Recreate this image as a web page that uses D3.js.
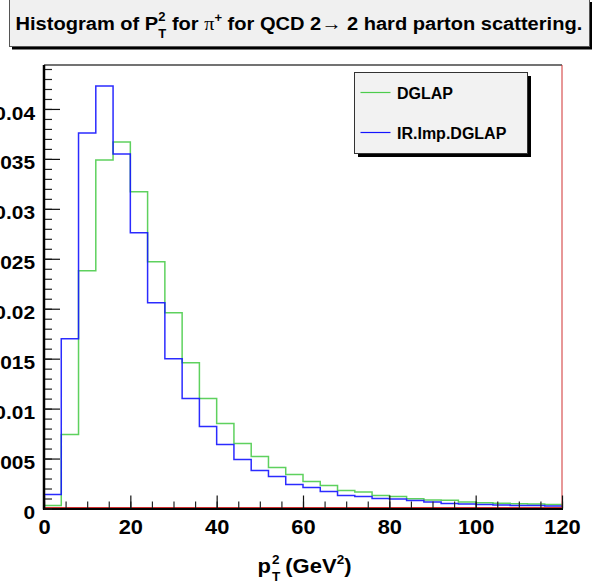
<!DOCTYPE html>
<html>
<head>
<meta charset="utf-8">
<script src="https://cdn.jsdelivr.net/npm/d3@7"></script>
<style>
  html, body { margin: 0; padding: 0; background: #fff; }
  svg { display: block; }
  text { font-family: "Liberation Sans", Arial, Helvetica, sans-serif; font-weight: bold; fill: #000; }
</style>
</head>
<body>
<script>
// ---- data ----
const binWidth = 4;
const binStarts = d3.range(0, 120, 4);
const dglap = [0.0003, 0.0074, 0.0238, 0.0349, 0.0367, 0.0317, 0.0247, 0.0196, 0.0146, 0.0110,
               0.0085, 0.0065, 0.0052, 0.0041, 0.0034, 0.0027, 0.0023, 0.0018, 0.00165, 0.0013,
               0.0012, 0.00098, 0.00085, 0.00082, 0.00065, 0.00058, 0.00052, 0.00048, 0.00045, 0.0004];
const irImpDglap = [0.0014, 0.0170, 0.0376, 0.0423, 0.0355, 0.0276, 0.0206, 0.0150, 0.0110, 0.0082,
                    0.0064, 0.0049, 0.0038, 0.0032, 0.0024, 0.0021, 0.0017, 0.0013, 0.0012, 0.0010,
                    0.00095, 0.0008, 0.00065, 0.0005, 0.00045, 0.0004, 0.00035, 0.0003, 0.0003, 0.00025];
const seriesNames = ["DGLAP", "IR.Imp.DGLAP"];
const xTickValues = [0, 20, 40, 60, 80, 100, 120];
const xTickLabels = ["0", "20", "40", "60", "80", "100", "120"];
const yTickValues = [0, 0.005, 0.01, 0.015, 0.02, 0.025, 0.03, 0.035, 0.04];
const yTickLabels = ["0", "0.005", "0.01", "0.015", "0.02", "0.025", "0.03", "0.035", "0.04"];

// ---- layout ----
const W = 604, H = 582;
const pL = 44, pR = 562, pT = 65, pB = 508.5;
const colors = ["#4ccc4c", "#1414ff"];

const svg = d3.select("body").append("svg").attr("width", W).attr("height", H);

const x = d3.scaleLinear().domain([0, 120]).range([pL, pR]);
const y = d3.scaleLinear().domain([0, 0.0444]).range([pB, pT]);

function stretch(sel, k) {
  sel.each(function () {
    const len = this.getComputedTextLength();
    if (len > 0) {
      this.setAttribute("textLength", len * k);
      this.setAttribute("lengthAdjust", "spacingAndGlyphs");
    }
  });
}

// frame
svg.append("rect").attr("x", pL).attr("y", pT).attr("width", pR - pL).attr("height", pB - pT)
  .attr("fill", "#fff");

// histograms
function stepPoints(vals) {
  const pts = [[x(0), y(0)]];
  vals.forEach((v, i) => {
    pts.push([x(binStarts[i]), y(v)]);
    pts.push([x(binStarts[i] + binWidth), y(v)]);
  });
  pts.push([x(120), y(0)]);
  return pts;
}
const line = d3.line();
[dglap, irImpDglap].forEach((vals, k) => {
  svg.append("path").attr("d", line(stepPoints(vals)))
    .attr("fill", "none").attr("stroke", colors[k]).attr("stroke-width", 1.5)
    .attr("stroke-opacity", 0.9);
});

// frame lines
svg.append("line").attr("x1", pL).attr("x2", pR).attr("y1", pT).attr("y2", pT)
  .attr("stroke", "#444").attr("stroke-width", 1.5);
svg.append("line").attr("x1", pR).attr("x2", pR).attr("y1", pT).attr("y2", pB)
  .attr("stroke", "#d03030").attr("stroke-width", 1);
svg.append("line").attr("x1", pL).attr("x2", pR).attr("y1", pB - 1).attr("y2", pB - 1)
  .attr("stroke", "#d03030").attr("stroke-width", 1);

// x axis
const xMinor = svg.append("g").attr("transform", `translate(0,${pB})`)
  .call(d3.axisBottom(x).tickValues(d3.range(0, 121, 5)).tickSizeInner(-7).tickSizeOuter(0).tickFormat(""));
xMinor.select(".domain").remove();
xMinor.selectAll("line").attr("stroke", "#222").attr("stroke-width", 1.2);

const xAxis = svg.append("g").attr("transform", `translate(0,${pB})`)
  .call(d3.axisBottom(x).tickValues(xTickValues).tickSizeInner(-13).tickSizeOuter(0)
    .tickFormat((d, i) => xTickLabels[i]));
xAxis.select(".domain").attr("stroke", "#000").attr("stroke-width", 2).attr("d", `M${pL - 1},0.5H${pR + 1}`);
xAxis.selectAll("line").attr("stroke", "#111").attr("stroke-width", 1.2);
xAxis.selectAll("text").attr("y", 25.5).attr("dy", null)
  .style("font-size", "19.5px").style("font-family", "'Liberation Sans', Arial, sans-serif").style("font-weight", "bold");
stretch(xAxis.selectAll("text"), 1.12);

// y axis
const yMinor = svg.append("g").attr("transform", `translate(${pL},0)`)
  .call(d3.axisLeft(y).tickValues(d3.range(0, 0.0445, 0.001)).tickSizeInner(-8).tickSizeOuter(0).tickFormat(""));
yMinor.select(".domain").remove();
yMinor.selectAll("line").attr("stroke", "#222").attr("stroke-width", 1.2);

const yAxis = svg.append("g").attr("transform", `translate(${pL},0)`)
  .call(d3.axisLeft(y).tickValues(yTickValues).tickSizeInner(-16).tickSizeOuter(0).tickPadding(9)
    .tickFormat((d, i) => yTickLabels[i]));
yAxis.select(".domain").attr("stroke", "#000").attr("stroke-width", 2.5).attr("d", `M0,${pT}V${pB + 1}`);
yAxis.selectAll("line").attr("stroke", "#111").attr("stroke-width", 1.2);
yAxis.selectAll("text").attr("dy", "0.53em")
  .style("font-size", "19px").style("font-family", "'Liberation Sans', Arial, sans-serif").style("font-weight", "bold");
stretch(yAxis.selectAll("text"), 1.1);

// x axis title: p_T^2 (GeV^2)
(function () {
  const g = svg.append("g");
  const base = 573;
  const t1 = g.append("text").attr("y", base).style("font-size", "19.5px").text("p");
  const w1 = t1.node().getComputedTextLength();
  const s1 = g.append("text").attr("y", base - 9).style("font-size", "12px").text("2");
  const b1 = g.append("text").attr("y", base + 8).style("font-size", "12px").text("T");
  const ws = Math.max(s1.node().getComputedTextLength(), b1.node().getComputedTextLength());
  const t2 = g.append("text").attr("y", base).style("font-size", "19.5px").style("white-space", "pre").text(" (GeV");
  const w2 = t2.node().getComputedTextLength();
  const s2 = g.append("text").attr("y", base - 9).style("font-size", "12px").text("2");
  const ws2 = s2.node().getComputedTextLength();
  const t3 = g.append("text").attr("y", base).style("font-size", "19.5px").text(")");
  const w3 = t3.node().getComputedTextLength();
  let cx = 0;
  t1.attr("x", cx); cx += w1 + 1;
  s1.attr("x", cx); b1.attr("x", cx); cx += ws - 1;
  t2.attr("x", cx); cx += w2;
  s2.attr("x", cx); cx += ws2;
  t3.attr("x", cx); cx += w3;
  const k = 94 / cx;
  g.attr("transform", `translate(${304.5 - 47},0) scale(${k},1)`);
})();

// title box
svg.append("rect").attr("x", 12).attr("y", 2).attr("width", 580).attr("height", 47.5).attr("fill", "#000");
svg.append("rect").attr("x", 9.5).attr("y", -0.5).attr("width", 580).attr("height", 47)
  .attr("fill", "#f0f0f0").attr("stroke", "#555").attr("stroke-width", 1);
(function () {
  const g = svg.append("g");
  const base = 30, fs = 18.5, ss = 12;
  const parts = [
    {t: "Histogram of P", fs: fs, dy: 0},
    {stack: ["2", "T"]},
    {t: " for ", fs: fs, dy: 0},
    {t: "\u03c0", fs: fs, dy: 0, serif: true},
    {t: "+", fs: ss, dy: -8},
    {t: " for QCD 2\u2192 2 hard parton scattering.", fs: fs, dy: 0}
  ];
  let cx = 0;
  parts.forEach(p => {
    if (p.stack) {
      const a = g.append("text").attr("x", cx).attr("y", base - 9).style("font-size", ss + "px").text(p.stack[0]);
      const b = g.append("text").attr("x", cx).attr("y", base + 8).style("font-size", ss + "px").text(p.stack[1]);
      cx += Math.max(a.node().getComputedTextLength(), b.node().getComputedTextLength());
    } else {
      const e = g.append("text").attr("x", cx).attr("y", base + p.dy).style("font-size", p.fs + "px")
        .style("white-space", "pre").text(p.t);
      if (p.serif) e.style("font-family", "'Liberation Serif', 'DejaVu Serif', serif").style("font-weight", "normal");
      cx += e.node().getComputedTextLength();
    }
  });
  const k = 567 / cx;
  g.attr("transform", `translate(${299 - 283.5},0) scale(${k},1)`);
})();

// legend
const lx = 354, ly = 72, lw = 173, lh = 81;
svg.append("rect").attr("x", lx + 4).attr("y", ly + 4).attr("width", lw).attr("height", lh).attr("fill", "#000");
svg.append("rect").attr("x", lx + 0.5).attr("y", ly + 0.5).attr("width", lw).attr("height", lh)
  .attr("fill", "#f2f2f2").attr("stroke", "#333").attr("stroke-width", 1);
const legY = [92.5, 132.5];
seriesNames.forEach((name, i) => {
  svg.append("line").attr("x1", 360.5).attr("x2", 390.5).attr("y1", legY[i]).attr("y2", legY[i])
    .attr("stroke", colors[i]).attr("stroke-width", 1.2);
  svg.append("text").attr("x", 397).attr("y", legY[i] + 6.5).style("font-size", "16px").text(name);
});
</script>
</body>
</html>
